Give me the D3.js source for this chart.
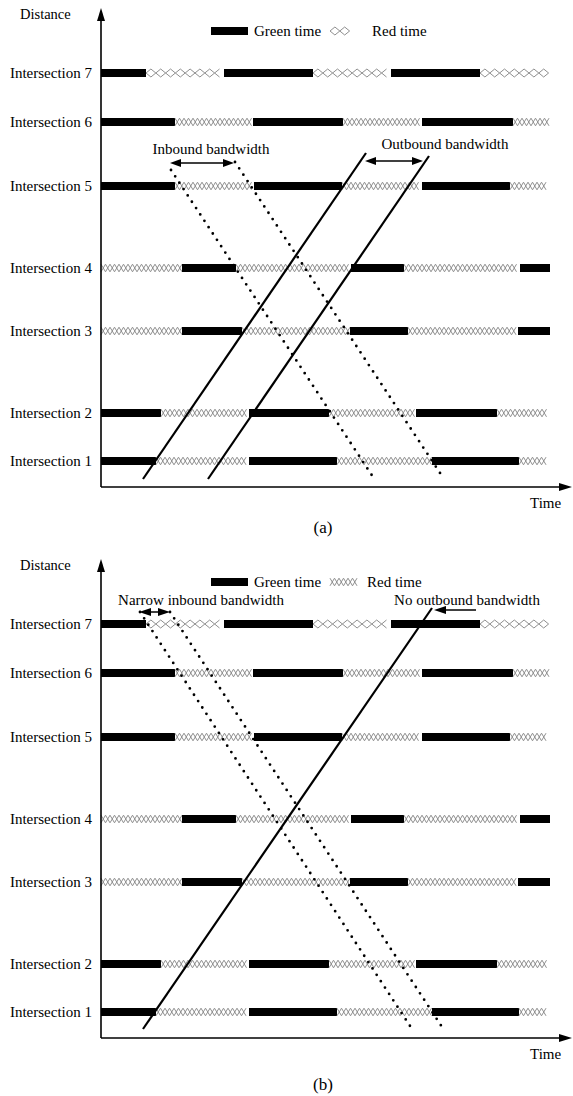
<!DOCTYPE html>
<html><head><meta charset="utf-8">
<script src="https://cdn.jsdelivr.net/npm/d3@7"></script>
<style>
body{margin:0;background:#fff}
text{font-family:"Liberation Serif","Times New Roman",serif;fill:#000}
</style>
</head><body>
<svg id="c" width="573" height="1096"></svg>
<script>
// ---------- DATA ----------
const intersections = ["Intersection 1","Intersection 2","Intersection 3","Intersection 4","Intersection 5","Intersection 6","Intersection 7"];
const distances = [26, 74, 156, 219, 301, 365, 414];
// signal phases per intersection: [state, start time, end time]
const phasesInt1 = [["G",0,55],["R",55,148],["G",148,236],["R",236,331],["G",331,418],["R",418,448]];
const phasesInt2 = [["G",0,60],["R",60,148],["G",148,228],["R",228,315],["G",315,396],["R",396,448]];
const phasesInt3 = [["R",0,81],["G",81,141],["R",141,249],["G",249,307],["R",307,417],["G",417,449]];
const phasesInt4 = [["R",0,81],["G",81,135],["R",135,250],["G",250,303],["R",303,419],["G",419,449]];
const phasesInt5 = [["G",0,74],["R",74,153],["G",153,241],["R",241,321],["G",321,409],["R",409,448]];
const phasesInt6 = [["G",0,74],["R",74,152],["G",152,242],["R",242,321],["G",321,412],["R",412,448]];
const phasesInt7 = [["G",0,45],["R",45,123],["G",123,212],["R",212,290],["G",290,379],["R",379,448]];
const signalPhases = [phasesInt1,phasesInt2,phasesInt3,phasesInt4,phasesInt5,phasesInt6,phasesInt7];
// trajectories [time, distance]
const outboundA = [[[42,8],[265,334]],[[107,8],[328,331]]];
const inboundA  = [[[70,317],[274,7]],[[134,325],[343,8]]];
const outboundB = [[[42,9],[331,430]]];
const inboundB  = [[[39,426],[311,9]],[[69,426],[343,8]]];
const legendLabels = ["Green time","Red time"];
const axisLabels = ["Distance","Time"];

// ---------- SCALES ----------
const x = d3.scaleLinear().domain([0,470]).range([101,571]);
const y = d3.scaleLinear().domain([0,480]).range([487,7]);

const svg = d3.select("#c");
const BAR_H = 8;

function redPattern(g, x0, x1, yc, kind){
  const h = kind==="diamond" ? 4 : 3.8;
  const p = kind==="diamond" ? 9.8 : 9;
  const up = [], dn = [];
  for(let t=x0, k=0; t<=x1+0.01; t+=p/2, k++){
    if(kind==="diamond"){ const off = (k%2===0) ? 0 : h; up.push([t, yc-off]); dn.push([t, yc+off]); }
    else { const o = (k%2===0)? h : -h; up.push([t, yc-o]); dn.push([t, yc+o]); }
  }
  const line = d3.line();
  [up,dn].forEach(pts=>{
    const last = pts[pts.length-1];
    if(last[0]>x1) last[0]=x1;
    g.append("path").attr("d",line(pts)).attr("fill","none")
      .attr("stroke","#8f8f8f").attr("stroke-width",1);
  });
}

function arrowHead(g, tipX, tipY, dir, len, w){
  let pts;
  if(dir==='r') pts=[[tipX,tipY],[tipX-len,tipY-w/2],[tipX-len,tipY+w/2]];
  else if(dir==='l') pts=[[tipX,tipY],[tipX+len,tipY-w/2],[tipX+len,tipY+w/2]];
  else pts=[[tipX,tipY],[tipX-w/2,tipY+len],[tipX+w/2,tipY+len]];
  g.append("path").attr("d",d3.line()(pts)+"Z").attr("fill","#000");
}

function drawPanel(offsetY, cfg){
  const g = svg.append("g").attr("transform",`translate(0,${offsetY})`);
  signalPhases.forEach((phases,i)=>{
    const yc = y(distances[i]);
    const kind = i===6 ? "diamond" : "x";
    phases.forEach(([s,t0,t1])=>{
      if(s==="G"){
        g.append("rect").attr("x",x(t0)).attr("y",yc-BAR_H/2)
          .attr("width",x(t1)-x(t0)).attr("height",BAR_H).attr("fill","#000");
      } else {
        redPattern(g, x(t0), x(t1), yc, kind);
      }
    });
  });
  const ax = g.append("g").attr("transform",`translate(${x(0)},0)`)
    .call(d3.axisLeft(y).tickValues(distances).tickFormat((d,i)=>intersections[i]).tickSize(0).tickPadding(9));
  ax.select(".domain").remove();
  ax.selectAll("text").style("font-family",'"Liberation Serif","Times New Roman",serif').style("font-size","15px").attr("fill","#000");
  g.append("line").attr("x1",x(0)).attr("x2",x(0)).attr("y1",y(0)).attr("y2",y(466)).attr("stroke","#000").attr("stroke-width",1.6);
  arrowHead(g, x(0), y(479), 'u', 13, 8);
  const bx = g.append("g").attr("transform",`translate(0,${y(0)})`)
    .call(d3.axisBottom(x).tickValues([]).tickSizeOuter(0));
  bx.select(".domain").attr("stroke","#000").attr("stroke-width",1.6).attr("d",`M${x(0)},0H${x(460)}`);
  arrowHead(g, x(471), y(0), 'r', 13, 8);
  g.append("text").attr("x",20).attr("y",19).style("font-size","14.5px").text(axisLabels[0]);
  g.append("text").attr("x",530).attr("y",y(0)+21).style("font-size","15px").text(axisLabels[1]);
  g.append("rect").attr("x",211).attr("y",31-BAR_H/2).attr("width",37).attr("height",BAR_H).attr("fill","#000");
  g.append("text").attr("x",254).attr("y",36).style("font-size","15px").text(legendLabels[0]);
  redPattern(g, 330, cfg.legendPatEnd, 31, cfg.legendKind);
  g.append("text").attr("x",cfg.legendRedX).attr("y",36).style("font-size","15px").text(legendLabels[1]);
  cfg.outbound.forEach(seg=>{
    g.append("line").attr("x1",x(seg[0][0])).attr("y1",y(seg[0][1])).attr("x2",x(seg[1][0])).attr("y2",y(seg[1][1]))
      .attr("stroke","#000").attr("stroke-width",2.2);
  });
  cfg.inbound.forEach(seg=>{
    g.append("line").attr("x1",x(seg[0][0])).attr("y1",y(seg[0][1])).attr("x2",x(seg[1][0])).attr("y2",y(seg[1][1]))
      .attr("stroke","#000").attr("stroke-width",2.8).attr("stroke-linecap","round").attr("stroke-dasharray","0 7.6");
  });
  cfg.extras(g);
  return g;
}

function doubleArrow(g, t0, t1, d, len, w){
  const yy = y(d);
  g.append("line").attr("x1",x(t0)+len-1).attr("x2",x(t1)-len+1).attr("y1",yy).attr("y2",yy).attr("stroke","#000").attr("stroke-width",1.5);
  arrowHead(g, x(t0), yy, 'l', len, w);
  arrowHead(g, x(t1), yy, 'r', len, w);
}

drawPanel(0, {
  legendKind:"diamond", legendPatEnd:352, legendRedX:372,
  outbound: outboundA, inbound: inboundA,
  extras: g=>{
    doubleArrow(g, 69, 133, 324, 11, 8);
    doubleArrow(g, 264, 322, 326, 11, 8);
    g.append("text").attr("x",211).attr("y",154).attr("text-anchor","middle").style("font-size","15px").text("Inbound bandwidth");
    g.append("text").attr("x",445).attr("y",149).attr("text-anchor","middle").style("font-size","15px").text("Outbound bandwidth");
  }
});
drawPanel(551, {
  legendKind:"x", legendPatEnd:361, legendRedX:367,
  outbound: outboundB, inbound: inboundB,
  extras: g=>{
    doubleArrow(g, 38, 69, 426, 12, 8);
    const yy = y(428);
    g.append("line").attr("x1",x(333)+8).attr("x2",x(375)).attr("y1",yy).attr("y2",yy).attr("stroke","#000").attr("stroke-width",1.5);
    arrowHead(g, x(333), yy, 'l', 12, 8);
    g.append("text").attr("x",201).attr("y",54).attr("text-anchor","middle").style("font-size","15px").text("Narrow inbound bandwidth");
    g.append("text").attr("x",467).attr("y",54).attr("text-anchor","middle").style("font-size","15px").text("No outbound bandwidth");
  }
});
svg.append("text").attr("x",323).attr("y",533).attr("text-anchor","middle").style("font-size","17px").text("(a)");
svg.append("text").attr("x",323).attr("y",1090).attr("text-anchor","middle").style("font-size","17px").text("(b)");
</script>
</body></html>
